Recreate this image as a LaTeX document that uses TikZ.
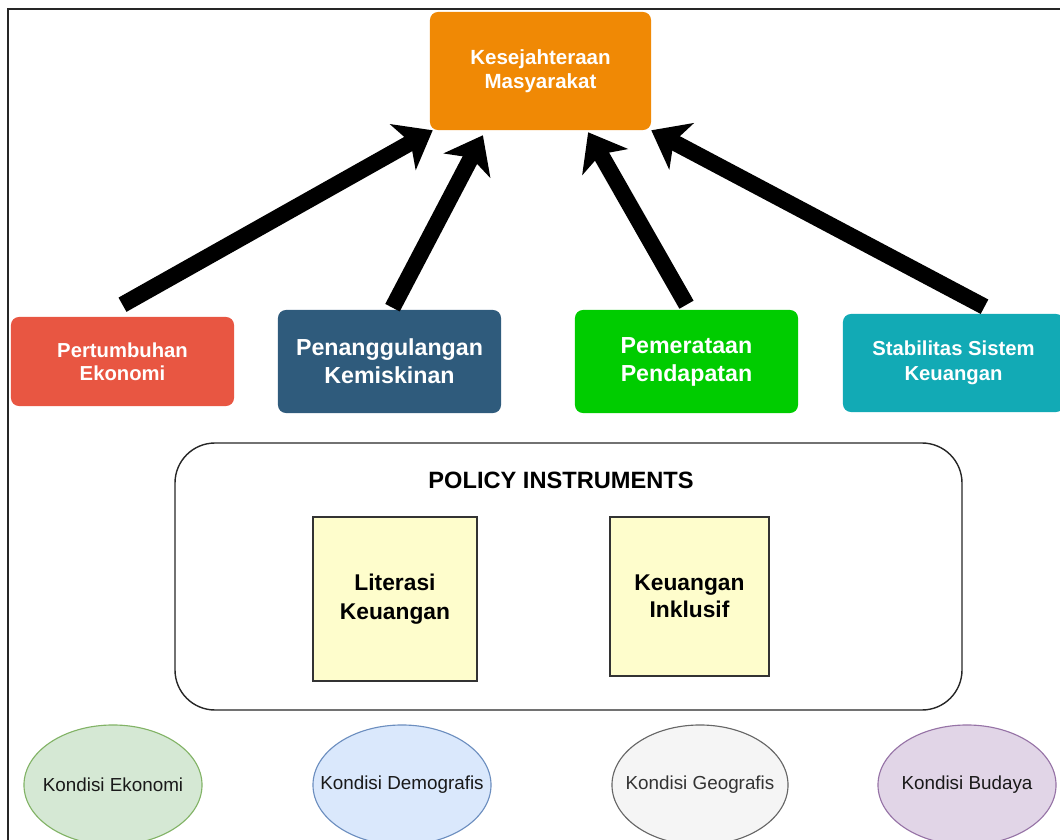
\documentclass[tikz,border=0pt]{standalone}
\usepackage{fontspec}
\setmainfont{Liberation Sans}
\usetikzlibrary{arrows.meta,shapes.geometric,calc}
\definecolor{kesej}{RGB}{240,137,5}
\definecolor{tumbuh}{RGB}{232,86,66}
\definecolor{miskin}{RGB}{47,91,124}
\definecolor{rata}{RGB}{0,204,0}
\definecolor{stabil}{RGB}{18,170,181}
\definecolor{kuning}{RGB}{254,253,204}
\definecolor{ekoF}{RGB}{213,232,212}
\definecolor{ekoD}{RGB}{130,179,102}
\definecolor{demoF}{RGB}{218,232,252}
\definecolor{demoD}{RGB}{108,142,191}
\definecolor{geoF}{RGB}{245,245,245}
\definecolor{geoD}{RGB}{102,102,102}
\definecolor{budF}{RGB}{225,213,231}
\definecolor{budD}{RGB}{150,115,166}
\tikzset{
  goalbox/.style={rounded corners=5.7pt, text=white, align=center, inner sep=0pt,
    minimum width=5.575cm},
  instbox/.style={draw=black!80, line width=1pt, fill=kuning, align=center, inner sep=0pt},
  kondisi/.style={ellipse, line width=0.8pt, inner xsep=-16pt, inner ysep=0pt,
    minimum width=4.45cm, minimum height=3cm, text=black!90,
    font=\fontsize{13.4}{16}\selectfont},
  bigarrow/.style={line width=11.6pt, -{Stealth[length=0.85cm,width=1.3cm,inset=0.22cm]}}
}
\newcommand{\bigfont}[2]{\fontsize{#1}{#2}\selectfont\bfseries}

\begin{document}
\begin{tikzpicture}[x=0.025cm, y=-0.025cm]
\useasboundingbox (0,0) rectangle (1060,840);
\clip (0,0) rectangle (1060,840);
\draw[line width=1.4pt, black!85] (8,860) -- (8,9) -- (1080,9);

% tujuan
\node[goalbox, fill=kesej, minimum width=5.525cm, minimum height=2.95cm,
  font=\bigfont{14.6}{17}] (ks) at (540.5,71) {Kesejahteraan\\Masyarakat};

% sasaran
\node[goalbox, fill=tumbuh, minimum height=2.225cm, font=\bigfont{14.4}{16.4}]
  (pe) at (122.5,361.5) {Pertumbuhan\\Ekonomi};
\node[goalbox, fill=miskin, minimum height=2.575cm, font=\bigfont{16.5}{20}]
  (pk) at (389.5,361.5) {Penanggulangan\\Kemiskinan};
\node[goalbox, fill=rata, minimum height=2.575cm, font=\bigfont{16.5}{20}]
  (pp) at (686.5,361.5) {Pemerataan\\Pendapatan};
\node[goalbox, fill=stabil, minimum width=5.525cm, minimum height=2.45cm,
  font=\bigfont{14.4}{17.4}] (sk) at (953.5,363) {Stabilitas Sistem\\Keuangan};

\draw[bigarrow] ($(pe.north)+(0,-12)$) -- ($(ks.south west)+(3,0)$);
\draw[bigarrow] ($(pk.north)+(3,-2)$) -- ($(ks.south west)!0.24!(ks.south east)+(0,5)$);
\draw[bigarrow] ($(pp.north)+(0,-5)$) -- ($(ks.south west)!0.715!(ks.south east)+(0,2)$);
\draw[bigarrow] ($(sk.north)+(31,-7)$) -- (ks.south east);

% instrumen
\draw[line width=1pt, black!85, rounded corners=1cm] (175,443) rectangle (962,710);
\node[font=\bigfont{16.8}{20}] (pol) at (561,480) {POLICY INSTRUMENTS};
\node[instbox, minimum width=4.1cm, minimum height=4.1cm, font=\bigfont{16.2}{21}]
  (lk) at (395,599) {Literasi\\Keuangan};
\node[instbox, minimum width=3.975cm, minimum height=3.975cm, font=\bigfont{16.2}{19}]
  (ki) at (689.5,596.5) {Keuangan\\Inklusif};

% kondisi
\node[kondisi, fill=ekoF, draw=ekoD] (ke) at (113,785) {Kondisi Ekonomi};
\node[kondisi, fill=demoF, draw=demoD] (kd) at (402,785) {Kondisi Demografis};
\node[kondisi, fill=geoF, draw=geoD, text=black!80, minimum width=4.4cm] (kg) at (700,785) {Kondisi Geografis};
\node[kondisi, fill=budF, draw=budD] (kb) at (967,785) {Kondisi Budaya};
\end{tikzpicture}
\end{document}
